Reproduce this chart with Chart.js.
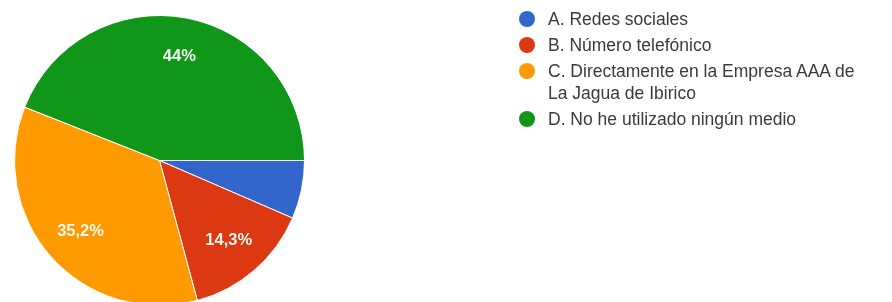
<!DOCTYPE html>
<html>
<head>
<meta charset="utf-8">
<script src="https://cdn.jsdelivr.net/npm/chart.js@4.4.1/dist/chart.umd.min.js"></script>
<style>
  html, body { margin: 0; padding: 0; background: #fff; overflow: hidden; width: 892px; height: 302px; }
  #wrap { position: absolute; left: 0; top: 0; width: 892px; height: 312px; }
  #legend { position: absolute; left: 519px; top: 8px; width: 350px; font-family: "Liberation Sans", Arial, sans-serif; font-size: 17.5px; color: #3a3a3a; }
  .item { position: relative; padding-left: 29px; line-height: 22px; margin-bottom: 4px; }
  .dot { position: absolute; left: 0px; top: 3px; width: 16px; height: 16px; border-radius: 50%; }
</style>
</head>
<body>
<div id="wrap"><canvas id="c" width="892" height="312"></canvas></div>
<div id="legend"></div>
<script>
const categories = ["A. Redes sociales", "B. Número telefónico", "C. Directamente en la Empresa AAA de La Jagua de Ibirico", "D. No he utilizado ningún medio"];
const percentages = [6.5, 14.3, 35.2, 44];
const sliceLabels = ["", "14,3%", "35,2%", "44%"];
const colors = ["#3366cc", "#dc3912", "#ff9900", "#109618"];

const legendEl = document.getElementById('legend');
categories.forEach((name, i) => {
  const d = document.createElement('div');
  d.className = 'item';
  const dot = document.createElement('span');
  dot.className = 'dot';
  dot.style.background = colors[i];
  d.appendChild(dot);
  d.appendChild(document.createTextNode(name));
  legendEl.appendChild(d);
});

const labelPlugin = {
  id: 'sliceLabels',
  afterDatasetsDraw(chart) {
    const ctx = chart.ctx;
    const meta = chart.getDatasetMeta(0);
    ctx.save();
    ctx.fillStyle = '#f4f8ec';
    ctx.font = 'bold 16.5px "Liberation Sans", Arial, sans-serif';
    ctx.textAlign = 'center';
    ctx.textBaseline = 'middle';
    meta.data.forEach((arc, i) => {
      const t = sliceLabels[i];
      if (!t) return;
      const p = arc.getProps(['x', 'y', 'startAngle', 'endAngle', 'outerRadius'], true);
      const mid = (p.startAngle + p.endAngle) / 2;
      const r = p.outerRadius * 0.73;
      ctx.fillText(t, p.x + Math.cos(mid) * r, p.y + Math.sin(mid) * r);
    });
    ctx.restore();
  }
};

new Chart(document.getElementById('c'), {
  type: 'pie',
  data: {
    labels: categories,
    datasets: [{
      data: percentages,
      backgroundColor: colors,
      borderColor: '#ffffff',
      borderWidth: 1,
      hoverOffset: 0
    }]
  },
  options: {
    responsive: false,
    animation: false,
    rotation: 90,
    layout: { padding: { left: 14, right: 587, top: 15, bottom: 6 } },
    plugins: { legend: { display: false }, tooltip: { enabled: false } }
  },
  plugins: [labelPlugin]
});
</script>
</body>
</html>
